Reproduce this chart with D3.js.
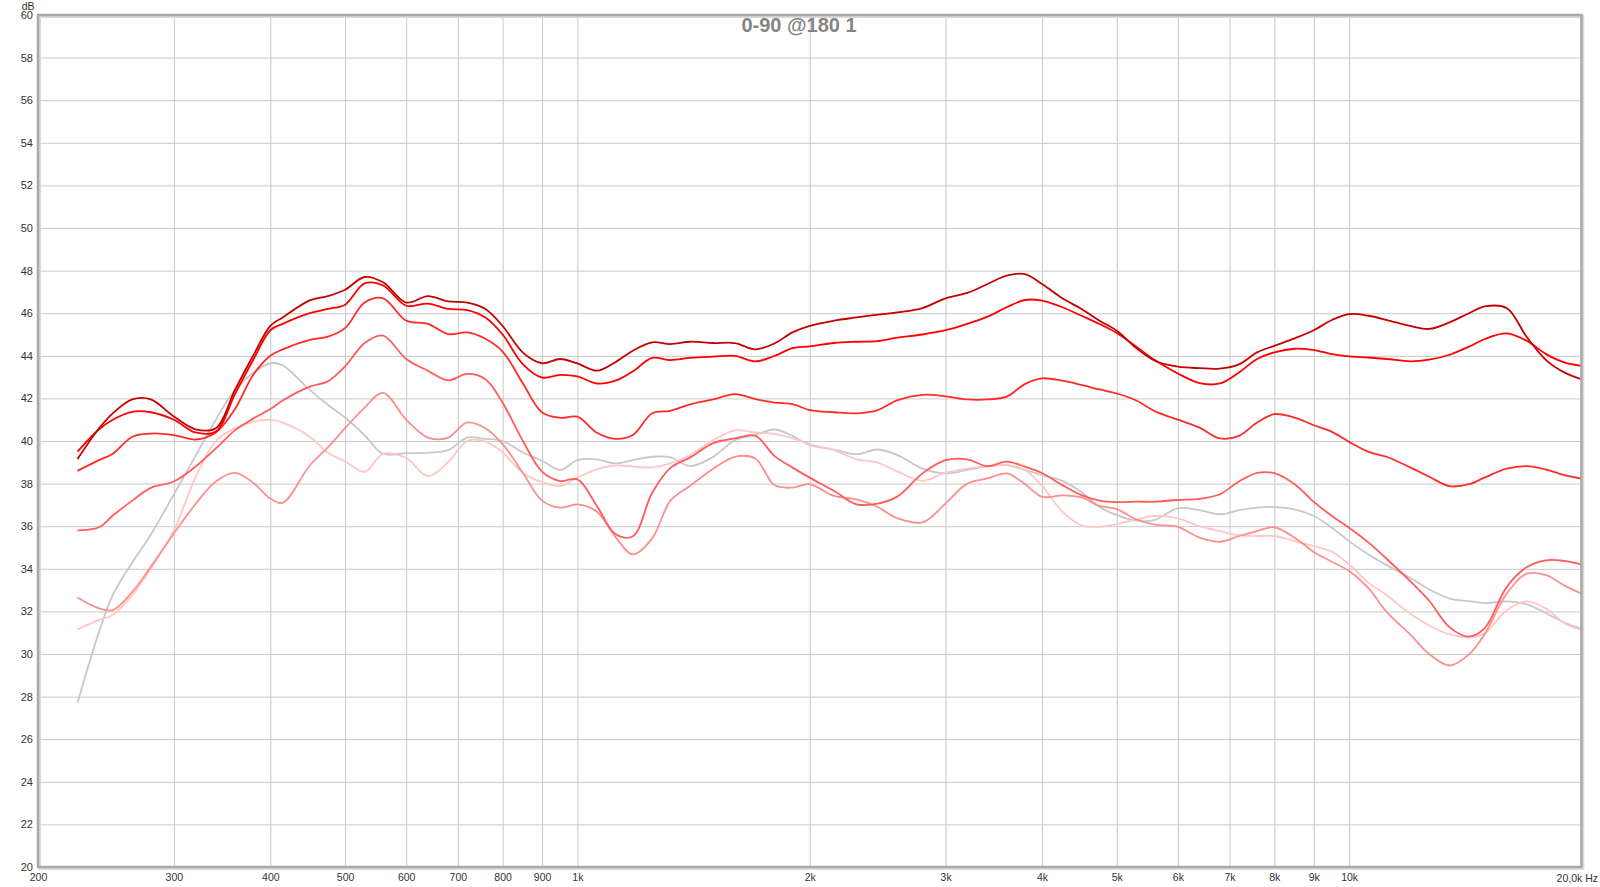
<!DOCTYPE html>
<html>
<head>
<meta charset="utf-8">
<script src="https://cdn.jsdelivr.net/npm/d3@7"></script>
<style>
  html, body { margin: 0; padding: 0; background: #ffffff; }
  svg { display: block; }
</style>
</head>
<body>
<svg id="chart" width="1600" height="887"></svg>
<script>
// ---------------- DATA ----------------
const title = "0-90 @180 1";
const seriesNames = ["0°", "15°", "30°", "45°", "60°", "75°", "90°"];
const seriesColors = ["#c40000", "#ff0000", "#ff2b2b", "#ff5c5c", "#ff8f8f", "#ffc6c6", "#c8c8c8"];

const freqs = [225, 240, 250, 265, 280, 300, 320, 340, 360, 380, 400, 415, 450, 475, 500, 530, 560, 600, 640, 680,
  720, 760, 800, 850, 900, 950, 1000, 1060, 1120, 1180, 1250, 1320, 1400, 1500, 1600, 1700, 1800, 1900, 2000, 2150,
  2300, 2450, 2600, 2800, 3000, 3200, 3400, 3600, 3800, 4000, 4250, 4500, 4750, 5000, 5300, 5600, 6000, 6400, 6800, 7200,
  7600, 8000, 8500, 9000, 9500, 10000, 10600, 11200, 12000, 12700, 13500, 14300, 15000, 16000, 17000, 18000, 19000, 20000];

const s0 = [39.15, 40.6, 41.3, 41.95, 41.95, 41.15, 40.55, 40.6, 42.4, 44.0, 45.4, 45.8, 46.6, 46.8, 47.1, 47.7, 47.45, 46.5, 46.8, 46.55,
  46.5, 46.2, 45.4, 44.15, 43.65, 43.85, 43.64, 43.3, 43.7, 44.24, 44.63, 44.55, 44.66, 44.6, 44.6, 44.3, 44.58, 45.1, 45.41, 45.65,
  45.8, 45.93, 46.04, 46.24, 46.7, 46.95, 47.37, 47.76, 47.84, 47.37, 46.7, 46.2, 45.65, 45.18, 44.36, 43.77, 43.49, 43.42, 43.4, 43.6,
  44.16, 44.47, 44.82, 45.2, 45.68, 45.96, 45.88, 45.68, 45.4, 45.26, 45.57, 46.0, 46.32, 46.24, 44.87, 43.8, 43.22, 42.9];

const s1 = [39.5, 40.55, 41.0, 41.37, 41.35, 41.0, 40.4, 40.45, 42.2, 43.8, 45.2, 45.5, 46.0, 46.2, 46.4, 47.4, 47.3, 46.35, 46.45, 46.2,
  46.15, 45.8, 45.0, 43.6, 42.98, 43.1, 43.03, 42.7, 42.83, 43.27, 43.9, 43.8, 43.9, 43.96, 44.0, 43.74, 43.99, 44.36, 44.44, 44.6,
  44.66, 44.69, 44.85, 45.0, 45.2, 45.5, 45.84, 46.28, 46.62, 46.59, 46.28, 45.88, 45.49, 45.07, 44.43, 43.8, 43.17, 42.72, 42.7, 43.22,
  43.85, 44.16, 44.33, 44.27, 44.08, 43.97, 43.92, 43.85, 43.74, 43.82, 44.05, 44.43, 44.79, 45.05, 44.7, 44.08, 43.69, 43.53];

const s2 = [38.6, 39.1, 39.4, 40.2, 40.35, 40.28, 40.07, 40.4, 41.5, 43.1, 44.0, 44.3, 44.75, 44.9, 45.3, 46.5, 46.7, 45.65, 45.5, 45.02,
  45.1, 44.8, 44.2, 42.7, 41.34, 41.09, 41.14, 40.39, 40.1, 40.28, 41.3, 41.42, 41.72, 41.95, 42.2, 41.97, 41.8, 41.73, 41.45, 41.35,
  41.3, 41.45, 41.92, 42.17, 42.1, 41.95, 41.95, 42.08, 42.67, 42.94, 42.83, 42.63, 42.42, 42.23, 41.9, 41.4, 41.0, 40.63, 40.12, 40.24,
  40.87, 41.26, 41.1, 40.74, 40.43, 39.96, 39.49, 39.25, 38.76, 38.32, 37.88, 37.97, 38.29, 38.7, 38.82, 38.66, 38.4, 38.24];

const s3 = [35.8, 35.95, 36.5, 37.2, 37.8, 38.1, 38.8, 39.65, 40.5, 41.05, 41.5, 41.9, 42.55, 42.8, 43.5, 44.6, 44.95, 43.85, 43.3, 42.85,
  43.15, 42.9, 41.8, 40.0, 38.56, 38.12, 38.2, 36.95, 35.63, 35.53, 37.57, 38.74, 39.23, 39.9, 40.12, 40.25, 39.3, 38.75, 38.28, 37.66,
  37.03, 37.06, 37.4, 38.48, 39.1, 39.14, 38.82, 39.03, 38.8, 38.5, 37.93, 37.46, 37.2, 37.13, 37.15, 37.15, 37.23, 37.28, 37.5, 38.1,
  38.5, 38.49, 37.97, 37.14, 36.48, 35.93, 35.23, 34.45, 33.42, 32.5, 31.25, 30.82, 31.23, 33.14, 34.08, 34.4, 34.37, 34.21];

const s4 = [32.65, 32.14, 32.06, 32.92, 34.1, 35.66, 37.04, 38.1, 38.5, 38.04, 37.3, 37.1, 38.85, 39.7, 40.6, 41.57, 42.26, 41.0, 40.16, 40.16,
  40.87, 40.6, 39.85, 38.5, 37.2, 36.87, 37.02, 36.68, 35.5, 34.68, 35.43, 37.2, 37.9, 38.7, 39.26, 39.18, 37.93, 37.81, 37.97, 37.42,
  37.26, 36.9, 36.37, 36.18, 37.07, 38.0, 38.24, 38.48, 37.98, 37.38, 37.45, 37.35, 36.95, 36.8, 36.32, 36.07, 35.97, 35.46, 35.27, 35.54,
  35.77, 35.95, 35.46, 34.79, 34.33, 33.9, 33.08, 31.95, 30.92, 30.0, 29.46, 29.98, 30.95, 32.83, 33.77, 33.7, 33.22, 32.83];

const s5 = [31.15, 31.6, 31.83, 32.77, 34.0, 35.8, 38.3, 40.0, 40.6, 40.9, 41.0, 40.86, 40.2, 39.45, 39.05, 38.55, 39.4, 39.2, 38.35, 39.0,
  40.0, 39.98, 39.46, 38.5, 38.07, 37.88, 38.28, 38.67, 38.85, 38.8, 38.76, 38.95, 39.34, 40.04, 40.5, 40.4, 40.33, 40.13, 39.85, 39.57,
  39.14, 38.99, 38.56, 38.13, 38.51, 38.7, 38.82, 38.87, 38.64, 37.9, 36.68, 36.04, 35.97, 36.1, 36.32, 36.48, 36.37, 36.0, 35.77, 35.57,
  35.54, 35.54, 35.3, 35.07, 34.8, 34.2, 33.34, 32.75, 31.89, 31.34, 30.92, 30.78, 30.98, 32.05, 32.47, 32.13, 31.45, 31.14];

const s6 = [27.7, 31.05, 32.77, 34.3, 35.6, 37.5, 39.3, 41.0, 42.4, 43.2, 43.65, 43.55, 42.4, 41.7, 41.1, 40.27, 39.4, 39.43, 39.45, 39.57,
  40.16, 40.1, 40.0, 39.46, 39.07, 38.64, 39.1, 39.14, 38.95, 39.1, 39.26, 39.23, 38.82, 39.26, 40.04, 40.28, 40.54, 40.24, 39.8, 39.6,
  39.38, 39.6, 39.34, 38.7, 38.48, 38.64, 38.8, 38.87, 38.64, 38.4, 38.13, 37.6, 36.9, 36.52, 36.26, 36.3, 36.84, 36.75, 36.56, 36.75,
  36.87, 36.9, 36.79, 36.48, 35.93, 35.3, 34.67, 34.16, 33.58, 33.03, 32.6, 32.48, 32.39, 32.47, 32.33, 31.92, 31.47, 31.19];

const allSeries = [s0, s1, s2, s3, s4, s5, s6];

const yTicks = [20, 22, 24, 26, 28, 30, 32, 34, 36, 38, 40, 42, 44, 46, 48, 50, 52, 54, 56, 58, 60];
const xTicks = [200, 300, 400, 500, 600, 700, 800, 900, 1000, 2000, 3000, 4000, 5000, 6000, 7000, 8000, 9000, 10000];
const xTickLabels = ["200", "300", "400", "500", "600", "700", "800", "900", "1k", "2k", "3k", "4k", "5k", "6k", "7k", "8k", "9k", "10k"];
const xEndLabel = "20,0k Hz";
const yUnit = "dB";

// ---------------- CHART ----------------
const svg = d3.select("#chart");
const L = 38, R = 1581.4, T = 15, B = 867;

const x = d3.scaleLog().domain([200, 20000]).range([L, R]);
const y = d3.scaleLinear().domain([20, 60]).range([B, T]);

svg.append("rect").attr("width", 1600).attr("height", 887).attr("fill", "#ffffff");

// grid
const grid = svg.append("g");
grid.append("g")
  .attr("transform", `translate(0,${B})`)
  .call(d3.axisBottom(x).tickValues(xTicks.slice(1)).tickSize(-(B - T)).tickFormat(""))
  .call(g => g.select(".domain").remove())
  .call(g => g.selectAll("line").attr("stroke", "#c9c9c9").attr("stroke-width", 1));
grid.append("g")
  .attr("transform", `translate(${L},0)`)
  .call(d3.axisLeft(y).tickValues(yTicks.slice(1, -1)).tickSize(-(R - L)).tickFormat(""))
  .call(g => g.select(".domain").remove())
  .call(g => g.selectAll("line").attr("stroke", "#c9c9c9").attr("stroke-width", 1));

// curves
const line = d3.line()
  .x((d, i) => x(freqs[i]))
  .y(d => y(d))
  .curve(d3.curveCatmullRom.alpha(0.5));

const order = [6, 5, 4, 3, 2, 1, 0];
svg.append("g").selectAll("path")
  .data(order)
  .join("path")
  .attr("d", k => line(allSeries[k]))
  .attr("fill", "none")
  .attr("stroke", k => seriesColors[k])
  .attr("stroke-width", 1.8)
  .attr("stroke-linejoin", "round");

// frame
svg.append("rect")
  .attr("x", L + 1.5).attr("y", T + 1.5).attr("width", R - L).attr("height", B - T)
  .attr("fill", "none").attr("stroke", "#dadada").attr("stroke-width", 3);
svg.append("rect")
  .attr("x", L).attr("y", T).attr("width", R - L).attr("height", B - T)
  .attr("fill", "none").attr("stroke", "#a9a9a9").attr("stroke-width", 2.5);

// axes labels
const fontFam = "'Liberation Sans', Arial, sans-serif";
svg.append("g")
  .attr("transform", `translate(0,${B})`)
  .call(d3.axisBottom(x).tickValues(xTicks).tickSize(0).tickPadding(7)
    .tickFormat((d, i) => xTickLabels[i]))
  .call(g => g.select(".domain").remove())
  .call(g => g.selectAll("text").attr("font-family", fontFam).attr("font-size", 10.5).attr("fill", "#333"));

svg.append("text")
  .attr("x", 1598).attr("y", B + 15)
  .attr("text-anchor", "end")
  .attr("font-family", fontFam).attr("font-size", 10.5).attr("fill", "#333")
  .text(xEndLabel);

svg.append("g")
  .attr("transform", `translate(${L},0)`)
  .call(d3.axisLeft(y).tickValues(yTicks).tickSize(0).tickPadding(5).tickFormat(d3.format("d")))
  .call(g => g.select(".domain").remove())
  .call(g => g.selectAll("text").attr("font-family", fontFam).attr("font-size", 11).attr("fill", "#333"));

svg.append("text")
  .attr("x", 34.5).attr("y", 9.5)
  .attr("text-anchor", "end")
  .attr("font-family", fontFam).attr("font-size", 10.5).attr("fill", "#333")
  .text(yUnit);

// title
svg.append("text")
  .attr("x", 799).attr("y", 32)
  .attr("text-anchor", "middle")
  .attr("font-family", fontFam).attr("font-size", 20).attr("font-weight", "bold").attr("fill", "#858585")
  .text(title);
</script>
</body>
</html>
